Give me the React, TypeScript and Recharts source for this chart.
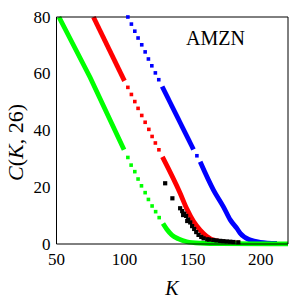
import { ComposedChart, Line, Scatter, XAxis, YAxis } from 'recharts'

const serif = '"Liberation Serif", "Times New Roman", serif'

const xTicks = [50, 100, 150, 200]
const yTicks = [0, 20, 40, 60, 80]

// [K, C] pairs; dense runs are drawn as thick lines
const greenDense1 = [[51.8, 80], [74.8, 58.6], [99.6, 33.2]]
const greenSparse = [
  [102.4, 30.5], [104.8, 27.8], [107.5, 25.5], [109.9, 22.9], [112.4, 20.5],
  [115.1, 18.1], [117.5, 15.7], [120.2, 13.4], [122.8, 11.4], [125.4, 9.3],
]
const greenDense2 = [
  [128.2, 7.2], [131, 5.2], [134.7, 3.2], [139.6, 1.8], [145.7, 0.8],
  [155.5, 0.3], [170, 0.1], [220, 0.05],
]

const redDense1 = [[77.1, 80], [99.9, 57.5]]
const redSparse = [
  [102.4, 55.2], [105, 52.7], [107.5, 50.2], [109.9, 47.8], [112.6, 45.3],
  [115.1, 42.9], [117.8, 40.4], [120.2, 37.9], [122.6, 35.6], [125.2, 33.2],
]
const redDense2 = [
  [127.8, 30.7], [140.8, 17.9], [145.7, 12.4], [150.6, 8], [155.5, 4.9],
  [160.4, 2.7], [165.3, 1.4], [175, 0.6], [185, 0.3],
]

const blueSparse1 = [
  [102.4, 80], [105, 77.5], [107.5, 75], [109.9, 72.6], [112.6, 70.2],
  [115.1, 67.7], [117.5, 65.2], [120, 62.8], [122.6, 60.3], [125.1, 57.9],
]
const blueDense1 = [[127.6, 55.5], [150.6, 33.3]]
const blueSparse2 = [[153.1, 31.1]]
const blueDense2 = [
  [155.5, 29], [165.3, 19], [172.6, 13.1], [177.6, 8.5], [182.5, 5.5],
  [184.9, 3.8], [192.3, 1.4], [199.6, 0.6], [211.9, 0.2],
]

const market = [
  [129.8, 21.4], [135.1, 16.1], [140.8, 12.6], [142.3, 11.6], [143, 10.2],
  [143.8, 10.7], [145.2, 9.9], [146, 8.1], [146.7, 8.6], [148.2, 7.6],
  [149.6, 6.3], [151.1, 5.3], [152.6, 4.2], [154.3, 3.2], [156.3, 2.5],
  [158, 2], [160.7, 1.65], [162, 1.55], [165.1, 1.4], [167.5, 1.25],
  [170.2, 1.1], [172.5, 1], [175, 0.9], [177.6, 0.8], [180, 0.7], [183.5, 0.6],
]

const rows = (pts: number[][]) => pts.map(([k, c]) => ({ k, c }))

const square = (side: number, fill: string) => (props: any) => (
  <rect
    x={props.cx - side / 2}
    y={props.cy - side / 2}
    width={side}
    height={side}
    fill={fill}
  />
)

const blank = () => ''

const XTick = (props: any) => (
  <text
    x={props.x}
    y={props.y}
    dy={12}
    textAnchor="middle"
    fontSize={17}
    fontFamily={serif}
    fill="#000"
  >
    {props.payload.value}
  </text>
)

const YTick = (props: any) => (
  <text
    x={props.x}
    y={props.y}
    dy={5.5}
    textAnchor="end"
    fontSize={17}
    fontFamily={serif}
    fill="#000"
  >
    {props.payload.value}
  </text>
)

export default function App() {
  const dense = (pts: number[][], color: string, key: string, curve = false) => (
    <Line
      key={key}
      data={rows(pts)}
      dataKey="c"
      type={curve ? 'monotone' : 'linear'}
      stroke={color}
      strokeWidth={4.8}
      dot={false}
      activeDot={false}
      isAnimationActive={false}
    />
  )
  const sparse = (pts: number[][], color: string, side: number, key: string) => (
    <Scatter
      key={key}
      data={rows(pts)}
      dataKey="c"
      shape={square(side, color)}
      isAnimationActive={false}
    />
  )

  return (
    <div style={{ position: 'absolute', left: 0, top: 0 }}>
      <ComposedChart
        width={300}
        height={300}
        margin={{ top: 17, right: 12, bottom: 26, left: 16.5 }}
      >
        <XAxis
          dataKey="k"
          type="number"
          domain={[50, 220]}
          ticks={xTicks}
          interval={0}
          height={30}
          tickLine={false}
          tickSize={0}
          tickMargin={9.4}
          axisLine={{ stroke: '#000' }}
          tick={<XTick />}
        />
        <YAxis
          type="number"
          domain={[0, 80]}
          ticks={yTicks}
          interval={0}
          width={40}
          tickLine={false}
          tickSize={0}
          tickMargin={6}
          axisLine={{ stroke: '#000' }}
          tick={<YTick />}
        />
        <XAxis
          xAxisId="bm"
          type="number"
          dataKey="k"
          orientation="bottom"
          mirror
          domain={[50, 220]}
          ticks={xTicks}
          tickSize={3}
          axisLine={false}
          tickLine={{ stroke: '#000' }}
          tickFormatter={blank}
        />
        <XAxis
          xAxisId="tm"
          type="number"
          dataKey="k"
          orientation="top"
          mirror
          domain={[50, 220]}
          ticks={xTicks}
          tickSize={3}
          axisLine={{ stroke: '#000' }}
          tickLine={{ stroke: '#000' }}
          tickFormatter={blank}
        />
        <YAxis
          yAxisId="lm"
          type="number"
          orientation="left"
          mirror
          domain={[0, 80]}
          ticks={yTicks}
          tickSize={3}
          axisLine={false}
          tickLine={{ stroke: '#000' }}
          tickFormatter={blank}
        />
        <YAxis
          yAxisId="rm"
          type="number"
          orientation="right"
          mirror
          domain={[0, 80]}
          ticks={yTicks}
          tickSize={3}
          axisLine={{ stroke: '#000' }}
          tickLine={{ stroke: '#000' }}
          tickFormatter={blank}
        />

        {dense(blueDense1, '#0000ff', 'bd1')}
        {dense(blueDense2, '#0000ff', 'bd2', true)}
        {sparse(blueSparse1, '#0000ff', 3.6, 'bs1')}
        {sparse(blueSparse2, '#0000ff', 3.6, 'bs2')}

        {dense(redDense1, '#ff0000', 'rd1')}
        {dense(redDense2, '#ff0000', 'rd2', true)}
        {sparse(redSparse, '#ff0000', 3.6, 'rs')}

        {sparse(market, '#000000', 4.2, 'mk')}

        {dense(greenDense1, '#00ff00', 'gd1')}
        {dense(greenDense2, '#00ff00', 'gd2', true)}
        {sparse(greenSparse, '#00ff00', 3.6, 'gs')}

        <text
          x={215.5}
          y={38.3}
          textAnchor="middle"
          dominantBaseline="central"
          fontSize={20}
          fontFamily={serif}
          fill="#000"
        >
          AMZN
        </text>
        <text
          x={172}
          y={287.5}
          textAnchor="middle"
          dominantBaseline="central"
          fontSize={20}
          fontStyle="italic"
          fontFamily={serif}
          fill="#000"
        >
          K
        </text>
        <text
          transform="translate(15,142.5) rotate(-90)"
          textAnchor="middle"
          dominantBaseline="central"
          fontSize={22}
          fontFamily={serif}
          fill="#000"
        >
          <tspan fontStyle="italic">C</tspan>(<tspan fontStyle="italic">K</tspan>, 26)
        </text>
      </ComposedChart>
    </div>
  )
}
